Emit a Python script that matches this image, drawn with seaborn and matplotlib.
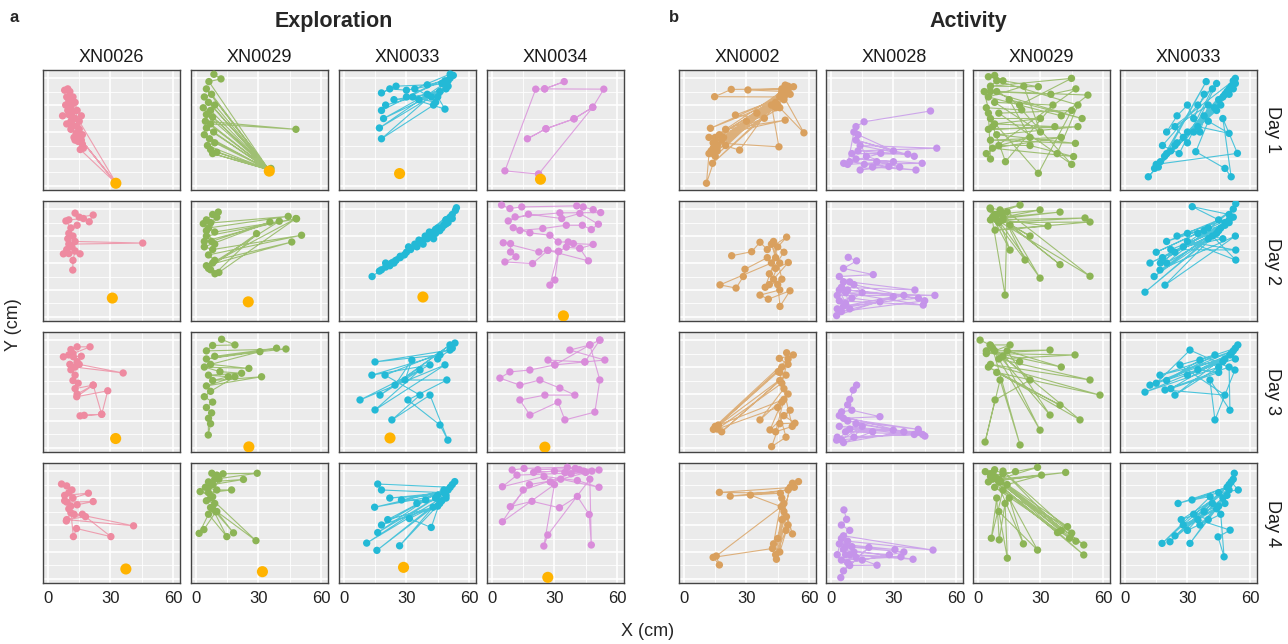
import matplotlib
matplotlib.use("Agg")
import matplotlib.pyplot as plt
import seaborn as sns
import pandas as pd

# ---------------- data (x, y in cm) ----------------
exp_subjects = ["XN0026", "XN0029", "XN0033", "XN0034"]
act_subjects = ["XN0002", "XN0028", "XN0029", "XN0033"]
day_labels = ["Day 1", "Day 2", "Day 3", "Day 4"]
x_ticks = [0, 30, 60]

exp_XN0026_d1 = [(8,35.5),(9.5,36),(10.5,35),(9,33),(10,31.5),(8.5,30),(11,29.5),(9.5,28),(12,27.5),(10,26.5),(7,26),(13,25),(11,24),(9,23),(12,22.5),(14,22),(11,21),(13.5,19.5),(15,18.5),(12.5,18),(14.5,16.5),(16.5,15.5),(17,14),(15.5,13.5),(32,1.5),(14,19),(32.5,1.2),(16,17),(32.8,1.0),(15,24),(16,26),(14,28),(13,31),(12,33),(15,21),(16.5,19),(13,17),(11,26),(10,30)]
exp_XN0029_d1 = [(8.6,41.4),(12,39.7),(6.2,38.7),(35,6),(5,36),(35,6),(7.5,34),(4,33),(35,6),(6,31),(9,30),(35,6),(3.5,29),(7,28),(35,6),(5,26.5),(8,25.5),(35,6),(4.5,24),(48,21),(7,23),(35,6),(5,21.5),(8.5,20),(35,6),(4,19),(6.5,17.5),(35,6),(9,16),(5.5,15),(35,6),(7,13.5),(10,12.5),(35,6),(8,12),(35,6),(36,6.5)]
exp_XN0033_d1 = [(52.5,41),(51,40),(48.5,39),(40,37.5),(25,37),(18,34.5),(22,36),(30,35.5),(47,38),(50,37),(36,32),(33,33),(44,31),(49,36),(20,30),(18,28),(52,41),(30,33),(48.5,28.5),(45,33),(24,32),(40,34),(19,25),(46,35),(17,21.5),(50,39),(18,17.5),(43,30),(51,41.5),(34,36),(42,33)]
exp_XN0034_d1 = [(22.4,4.4),(6.2,5.6),(21,35.9),(25.3,36),(34.7,38.7),(25.3,36),(53.7,35.9),(48.4,29.2),(39.4,24.9),(25.9,21.2),(17,17.5),(25.9,21.2),(39.4,24.9),(48.4,29.2),(22.4,4.4)]

exp_XN0026_d2 = [(13,38.5),(15,37),(21.7,37.8),(19.8,35.3),(17,36.5),(10,36),(8.6,35.6),(11,33),(14,34),(10,31),(12,30),(9.5,29),(13,28),(45.5,27.4),(10,27),(11.5,26),(9,25),(7.4,23.4),(10,23.5),(15.4,23.4),(13,24.5),(12,21),(11.9,17.4)]
exp_XN0029_d2 = [(10.7,38.9),(8,38),(5,36),(3.5,34.6),(44.3,37.3),(6,33),(9,31.5),(48.3,36.4),(5,30),(7.5,28),(35.5,35.2),(4,26),(8,25),(50.7,30.3),(6,23),(9,21),(46,27.8),(5,19),(7,17.5),(9.1,16),(29.1,30.9),(6,18),(11,16.5),(48,36.5),(8,20),(40,35.5),(4,28),(10,37),(7,35),(5,32),(9,27)]
exp_XN0033_d2 = [(13.5,15),(17,17),(20,18.5),(52,38),(18,17.5),(23,20),(25,21),(49,36),(27,22.5),(24,20),(30,24),(53.5,39.5),(32,25),(29,23),(35,26),(34,27),(54,40.5),(37,28),(40,29),(38,27),(20,20),(42,30),(44,31),(41,31.5),(46,32),(48,34),(27,22),(45,33),(50,35),(49,36),(51,37),(36,28.5),(44,32.5),(52,36.5),(39,30),(47,33),(49,34.5),(22,19),(31,26),(43,29)]
exp_XN0034_d2 = [(4.6,41.5),(8.6,40.2),(14.3,40.8),(40.7,41.2),(43.8,40.8),(48.6,39.8),(52.2,38.7),(32.6,38.6),(11.1,37.1),(7.8,35.6),(17.5,38.1),(33.5,36.5),(42.2,38.4),(51.1,34.4),(47.7,32.4),(43.4,34),(35.7,34),(24.4,32.8),(13.4,32.1),(10.2,33.1),(18.2,31.2),(27.8,30.3),(31.8,27.8),(36.6,27.8),(39.1,27.2),(48.6,26.9),(42.2,25.4),(35.7,25.9),(32,24.3),(30.2,13.7),(27.8,11.8),(32,24.3),(26.8,24.7),(22.5,24.1),(5.4,27.5),(8.9,27.2),(8.9,24.1),(11.5,22.3),(6.2,20.4),(19.5,19.8),(26.8,24.7),(46.3,20.8),(42.2,25.4)]

exp_XN0026_d3 = [(11,36.5),(14,37.5),(20.2,37.5),(12,35),(7.4,33.8),(10,34.5),(12.2,33.8),(16,34),(14,32),(10.5,31),(13,30),(36.1,27.8),(15,31),(11,29),(13,27),(12,25),(14.5,24),(13,22),(21.7,23.3),(13.8,19),(28.7,21.2),(25.8,12.5),(17.4,12.1),(15.4,11.9),(25.8,12.5),(21.7,23.3),(14,20)]
exp_XN0029_d3 = [(12.3,40.3),(18.7,38.2),(8,38),(5,36),(43.2,36.7),(9,34),(38.7,37),(5,33),(30.7,35.7),(7,31),(25.4,29.5),(4,30),(11.5,28.3),(21.9,27.7),(6,27),(15.5,26.4),(8,25),(31.5,26.4),(5,23),(18.7,26.4),(7,21),(4,19),(8,17),(5,15),(7.5,13),(6,11),(5.9,4.8),(7,9)]
exp_XN0033_d3 = [(53.3,38.9),(50.9,36.3),(14.9,31.9),(46.1,34.5),(13.4,27),(41.3,30.8),(7.7,17.8),(48.5,30.8),(14.9,14.1),(36.5,28.9),(17.3,19.6),(50.9,38.2),(24.5,23.3),(32.6,32.6),(29.3,25.2),(49.4,25.2),(30.7,17.8),(46.1,8.5),(49.9,2.9),(41.3,19.6),(23,10.4),(36.5,19.6),(19.7,27),(52,37),(45,33)]
exp_XN0034_d3 = [(51.8,40),(47,38.2),(37.4,36.3),(54.2,32.6),(44.6,31.9),(26.9,32.6),(30.2,30.8),(18.2,28.9),(8.6,28.2),(3.8,25.9),(13.4,23.3),(23,25.2),(32.6,22.2),(39.8,19.6),(25.4,19.6),(13.4,17.8),(18.2,12.2),(31.7,17),(35,10.4),(49.4,13.3),(51.8,25.2),(47,38.2),(30.2,30.8),(44.6,31.9),(51.8,40)]

exp_XN0026_d4 = [(6.5,35.2),(9,34.5),(11.5,33),(8,31),(19.4,31.8),(12,30),(9,28.5),(21.7,28.7),(14,27.5),(10,26),(12.5,24),(18,23.1),(9,22),(41.1,19.7),(11,24.5),(8.8,21.5),(16.5,24),(30.2,15.7),(13.7,18.7),(12.2,15.7),(10,32),(8,29),(11,27)]
exp_XN0029_d4 = [(7.6,39.2),(10,38.5),(13,39),(29.4,39.2),(9,37),(6,36),(22.8,36.9),(8,35),(4.5,34),(10,33),(17.1,33),(6,32),(2,32.4),(8,30.5),(5,29),(9,28),(7,26.5),(9.5,24.9),(3.8,18.3),(1.5,16.9),(6,24),(14.8,15.7),(8,26),(18,17.1),(10,25),(28.8,14.2),(7,30),(11,37),(6,34)]
exp_XN0033_d4 = [(53.2,36.1),(51,34),(16.2,35.2),(18,33),(48,32),(22,30),(45,31),(14.7,26.6),(50,33),(27.6,29.3),(47,29),(39.2,29.3),(16.2,17.2),(44,30),(10.9,13.3),(49,31),(15.8,10.6),(42.8,26.6),(26.7,12.3),(46,28),(31.4,22.4),(41.9,19.1),(48,33),(21,22),(45,27),(18,20),(52,35),(35,28),(49,30)]
exp_XN0034_d4 = [(9.7,40.4),(15.4,41),(36.2,41.4),(51.4,40.4),(42,40.5),(20,39.5),(30,40),(45,39.5),(12,38.5),(5,34.2),(25,38),(41,36.5),(51.4,34),(33,37),(18,35),(8.8,26.8),(19.2,28.8),(32.4,26.4),(41,30.6),(46.7,23.9),(47.7,12.6),(47,37),(26.8,16.3),(24.9,12.2),(30,35),(5,21.2),(15,33),(38,39),(48,40),(28,36),(22,40.5),(40,41),(44,40),(35,39.5)]

# target (food) locations per subject, days 1-4
target_XN0026 = [(32.6,1.0),(30.9,7.0),(32.5,3.5),(37.4,3.7)]
target_XN0029 = [(35.2,5.5),(25.1,5.6),(25.4,0.4),(31.9,2.7)]
target_XN0033 = [(26.7,4.6),(37.9,7.4),(22.1,3.7),(28.6,4.3)]
target_XN0034 = [(23.3,2.5),(34.3,0.4),(25.4,0.3),(26.8,0.6)]

act_XN0002_d1 = [(48.6,37.4),(52.6,36.8),(14,12),(50,35),(30.7,35.6),(47,36),(22.7,35.8),(14.7,33.1),(46,33),(15,18),(49,34),(12.7,21.4),(44,31),(16,15),(50,36),(18,17),(45,30),(13.7,8.4),(48,33),(57.6,19.7),(46,29),(14,14),(51,34),(24.7,26.3),(38.6,25.1),(17,19),(48.6,24.4),(20,21),(47,35),(26.7,13.3),(15,16),(45.6,14.5),(42,30),(12,12),(10.8,1),(16,13),(49,37),(35,27),(20,15),(13,13),(47,34),(15,11),(50,37),(19,18),(44,29),(14,16),(48,32),(30,24),(12,18)]
act_XN0028_d1 = [(47.8,27.8),(15.9,23.8),(12,22),(13,19),(30,13),(12,17),(40,11),(14,15),(50.8,14),(13,13),(36.9,11.8),(10,12),(23.9,12.1),(6.1,8.4),(9,9),(27.8,7.2),(14,5.9),(20,7),(40.8,5.9),(16,8),(43.8,8.4),(12,10),(30,9),(8,8),(11,20),(17,11),(33,7),(22,9)]
act_XN0029_d1 = [(5,40.5),(8,41),(12,39),(29,36.8),(6,37),(44.9,39.9),(20,30),(9,35),(52.8,33.7),(40,26),(5,33),(22,37),(30,20),(8,31),(36,30),(13.2,9),(4,29),(21,28.2),(45,8),(10,27),(45,28),(29,4.7),(6,25),(30,25),(8,23),(36.9,22),(5,21),(48,22),(9,19),(46.8,15.8),(6,17),(40,18),(7,14),(45.9,10.9),(25,15),(10,15),(25,18),(15,32),(50,25),(6,35),(35,34),(47,36),(4,12),(6,10),(5,27),(7,22),(3,35),(9,39),(48,30),(38,12)]
act_XN0033_d1 = [(53,39.9),(52,38),(14.2,6.5),(50,36),(11.2,3.4),(48,34),(20,12),(39,38.7),(17,9),(51,37),(25,16),(46,30),(22,13),(50,34),(30,20),(44,28),(15,8),(54,12.1),(47,25),(51,3.4),(48,6.5),(34,12.7),(40,24),(50,19.5),(35,22),(52,36),(28,18),(45,32),(19,11),(49,35),(38,26),(53,38),(24,15),(43,29),(33,20),(47,33),(16,7),(52,39),(20,20),(25,26),(30,30),(33,25),(38,34),(42,36),(26,12),(18,15),(35,30),(44,38),(30,16),(24,22),(40,30),(36,20)]

act_XN0002_d2 = [(22.9,22.7),(32.5,24.2),(36.5,27.7),(40,25),(49.3,29.6),(45,26),(42,20),(17.3,11.9),(25,10.7),(28.5,15),(29.3,17.7),(40,22),(44,18),(50.1,20.2),(43,14),(46,10),(36.5,8.1),(40.5,6.6),(50.9,9.7),(46.1,3.9),(45,12),(41,16),(48,24),(43,28),(47,14),(39,11),(44,22),(42,27),(46,20),(41,12)]
act_XN0028_d2 = [(8.3,22.1),(12.3,20.8),(6,18),(20.3,15.7),(4,15),(9,13),(40.3,10),(5,11),(3,8),(49.9,8),(7,9),(44.3,4.4),(4,6),(10,7),(23.5,5.6),(3,3),(2.7,0.5),(29.9,7.5),(6,4),(42,7),(8,10),(35,8),(5,2),(45,6),(11,12),(15,9),(7,5),(4,10),(6,13),(9,3)]
act_XN0029_d2 = [(5.8,40.4),(10.6,39.7),(20.2,41.5),(8,38),(29.8,39.7),(12,37),(39.4,38.9),(6,36),(51.4,36.7),(10,35),(53.8,35.2),(8.2,32.2),(33.6,33.7),(12,36),(25,30),(15.4,34.1),(39.4,19.4),(9,38),(15.4,24.8),(7,37),(22.6,21.1),(11,39),(29.8,14.4),(6,40),(13,8.1),(14,39),(53.8,15.1),(9,36)]
act_XN0033_d2 = [(53.2,42),(50,38),(32.3,40.9),(45,36),(20,28),(40,33),(15,24),(52,37),(25,30),(48,34),(12,20),(44,31),(18,22),(50,35),(9.6,9.2),(46,33),(16.8,17.4),(53,30),(19.2,11.8),(45,32),(22,25),(53.2,24.8),(30,28),(53.2,21.1),(42,30),(14,15),(50,36),(28,26),(47,29),(35,31),(52,40),(20,20),(40,29),(48,35),(24,24),(17,20),(38,32),(30,31)]

act_XN0002_d3 = [(49.3,35.3),(52.5,34.5),(45.8,33.2),(50,31),(45.3,28.3),(16.5,8.5),(47,30),(14.1,6.9),(49,27),(18.1,6),(46,25),(48,22),(36.5,10.4),(50,20),(47,17),(41.3,6.7),(51,14),(48,12),(53.3,9.2),(46,9),(42.1,0.5),(49,4),(45,15),(16,7),(47,24),(50,33),(15,8),(48,18),(44,6),(52,8),(46,28)]
act_XN0028_d3 = [(12.3,23.3),(10.7,21.5),(9,18),(8,16),(5.1,13.4),(10,14),(23.5,11.6),(6,11),(41.9,6.9),(8,10),(45.1,4.4),(4,8),(29.9,6.6),(7,6),(44,5),(3,4),(2.7,2.9),(12,9),(35,6),(6,2),(20,6),(9,7),(42,6),(5,3),(15,8),(11,4),(40,5),(4,12)]
act_XN0029_d3 = [(1,40),(5.8,38.2),(15.4,38.2),(8,36),(34.6,36.3),(4,35),(46.6,34.5),(10,33),(53.8,25.2),(6,31),(58.6,19.6),(9,28),(39.4,15.9),(5,30),(49,10.4),(12,34),(29.8,6.6),(7,37),(20.2,1.1),(10.6,25.2),(3.4,2.2),(8.2,17.8),(25,25.2),(6,38),(34.6,12.2),(14,36),(40,30),(4,36),(20,32)]
act_XN0033_d3 = [(54.2,38.2),(50.4,34.5),(12,23.3),(52,36),(16.8,27),(48,33),(9.6,20.7),(45,30),(24,19.6),(53,37),(36,32.6),(20,25),(43.2,34.5),(26.4,30.8),(48,19.6),(19.2,21.5),(50,30),(50.4,14),(40.8,25.2),(43.2,10.4),(52.8,28.9),(31.2,36.3),(15,24),(47,32),(30,27),(51,35),(22,22),(45,28),(35,29),(53,33)]

act_XN0002_d4 = [(55,36.1),(52.1,35.5),(53,34),(17,32.1),(46.3,31.8),(22.2,30.7),(50,33),(31.9,31.1),(46.7,26.8),(15.5,8.5),(17,5.2),(14,8),(42.5,11.3),(49.2,23.1),(44.4,7.3),(48,25),(52.1,16.7),(47,30),(43,13),(50,20),(46,10),(48,28),(45,15),(51,34),(47,22),(44,9),(49,18)]
act_XN0028_d4 = [(6.2,25.6),(7.5,22.1),(5,20),(9,18),(6,16),(49,10.7),(8,14),(4,13),(30.7,10.9),(10,12),(6,11),(39.4,7.3),(7,9),(33.6,8.2),(5,7),(12,8),(22.1,5.1),(9,5),(18.2,11.7),(6,3),(4.7,0.5),(11,10),(28,9),(8,6),(15,7),(35,10),(7,12),(3,9),(5,15),(9,9)]
act_XN0029_d4 = [(3.5,39.8),(8,40.5),(12,39),(18,39.8),(6,38),(28.6,41.4),(10,37),(42.1,39.5),(5,36),(30.5,38.5),(14,35),(43,19.4),(8,34),(44,15.1),(6,39),(50.8,12.6),(11,36),(50.8,8.9),(7,37),(38.2,17.2),(12,33),(6.4,15.1),(9,30),(10.2,14.5),(13,28),(14.1,7.7),(10,25),(28.6,10.7),(15,30),(21.8,13),(8,38),(45,17),(12,40),(40,18),(10,36),(47,14)]
act_XN0033_d4 = [(52.5,39.2),(51,36),(54.4,33),(45,32),(25.5,28),(49,34),(32.2,29.3),(40.9,30.5),(17.8,13.2),(50,35),(21.6,13.8),(47,30),(31.2,13.2),(44,26),(28,20),(48,28),(35,22),(50.5,18.1),(44.7,15.6),(47.6,8.2),(46,24),(30,18),(52,37),(38,25),(42,28),(24,16),(49,31),(36,20),(45,27),(27,22),(50,33),(33,24),(40,22)]

subject_colors = {"XN0026": "#EE8AA0", "XN0029": "#8CB455", "XN0033": "#23B9D6",
                  "XN0034": "#D98CDA", "XN0002": "#D9A05E", "XN0028": "#C594EA"}
target_color = "#FFB300"

# ---------------- assemble long table ----------------
g = globals()
rows = []
for panel, prefix, subjects in (("a", "exp", exp_subjects), ("b", "act", act_subjects)):
    for s in subjects:
        for d in range(4):
            for i, (x, y) in enumerate(g[f"{prefix}_{s}_d{d+1}"]):
                rows.append(dict(panel=panel, subject=s, day=d, order=i, x=x, y=y))
df = pd.DataFrame(rows)
trows = []
for s in exp_subjects:
    for d, (x, y) in enumerate(g[f"target_{s}"]):
        trows.append(dict(subject=s, day=d, x=x, y=y))
tdf = pd.DataFrame(trows)

# ---------------- figure ----------------
sns.set_style("white")
plt.rcParams["font.family"] = ["Liberation Sans", "DejaVu Sans"]
W, H = 1288, 644
fig = plt.figure(figsize=(W / 100, H / 100), dpi=100)

col_left = {"a": [43, 191, 339, 487], "b": [679, 826, 973, 1120]}
row_top = [70, 201, 332, 463]
pw, ph = 137, 120

for panel, subjects in (("a", exp_subjects), ("b", act_subjects)):
    for c, s in enumerate(subjects):
        for d in range(4):
            L, T = col_left[panel][c], row_top[d]
            ax = fig.add_axes([L / W, 1 - (T + ph) / H, pw / W, ph / H])
            ax.set_facecolor("#EBEBEB")
            sub = df[(df.panel == panel) & (df.subject == s) & (df.day == d)]
            col = subject_colors[s]
            sns.lineplot(data=sub, x="x", y="y", sort=False, estimator=None,
                         color=col, lw=0.8, alpha=0.8, ax=ax, legend=False, zorder=3)
            sns.scatterplot(data=sub, x="x", y="y", color=col, s=28,
                            edgecolor="none", linewidth=0, ax=ax, legend=False, zorder=4)
            if panel == "a":
                tsub = tdf[(tdf.subject == s) & (tdf.day == d)]
                sns.scatterplot(data=tsub, x="x", y="y", color=target_color, s=64,
                                edgecolor="none", linewidth=0, ax=ax, legend=False, zorder=5)
            ax.set_xlim(-2.4, 63.4)
            ax.set_ylim(-1.5, 43)
            ax.set_xticks(x_ticks)
            ax.set_xticks([15, 45], minor=True)
            ax.set_yticks([0, 10, 20, 30, 40])
            ax.set_yticks([5, 15, 25, 35], minor=True)
            ax.grid(True, which="major", color="white", lw=1.2, zorder=0)
            ax.grid(True, which="minor", color="white", lw=0.6, zorder=0)
            ax.set_axisbelow(True)
            ax.set_xlabel("")
            ax.set_ylabel("")
            ax.tick_params(axis="y", which="both", length=0, labelleft=False)
            ax.tick_params(axis="x", which="minor", length=0)
            if d == 3:
                ax.tick_params(axis="x", which="major", length=4, width=1,
                               color="#333333", labelsize=12, labelcolor="#222222", pad=2)
            else:
                ax.tick_params(axis="x", which="major", length=0, labelbottom=False)
            for sp in ax.spines.values():
                sp.set_color("#444444")
                sp.set_linewidth(1.0)
            if d == 0:
                fig.text((L + pw / 2) / W, 1 - 58 / H, s, ha="center", va="center",
                         fontsize=13, color="#1a1a1a")
            if panel == "b" and c == 3:
                fig.text(1272 / W, 1 - (T + ph / 2) / H, day_labels[d], ha="center",
                         va="center", rotation=270, fontsize=13, color="#1a1a1a")

fig.text(334 / W, 1 - 22 / H, "Exploration", ha="center", va="center",
         fontsize=15.5, fontweight="bold")
fig.text(968 / W, 1 - 22 / H, "Activity", ha="center", va="center",
         fontsize=15.5, fontweight="bold")
fig.text(14 / W, 1 - 17 / H, "a", ha="center", va="center", fontsize=12, fontweight="bold")
fig.text(674 / W, 1 - 17 / H, "b", ha="center", va="center", fontsize=12, fontweight="bold")
fig.text(14 / W, 1 - 325 / H, "Y (cm)", ha="center", va="center", rotation=90, fontsize=13)
fig.text(648 / W, 1 - 632 / H, "X (cm)", ha="center", va="center", fontsize=13)

fig.savefig("out.png", dpi=100)
